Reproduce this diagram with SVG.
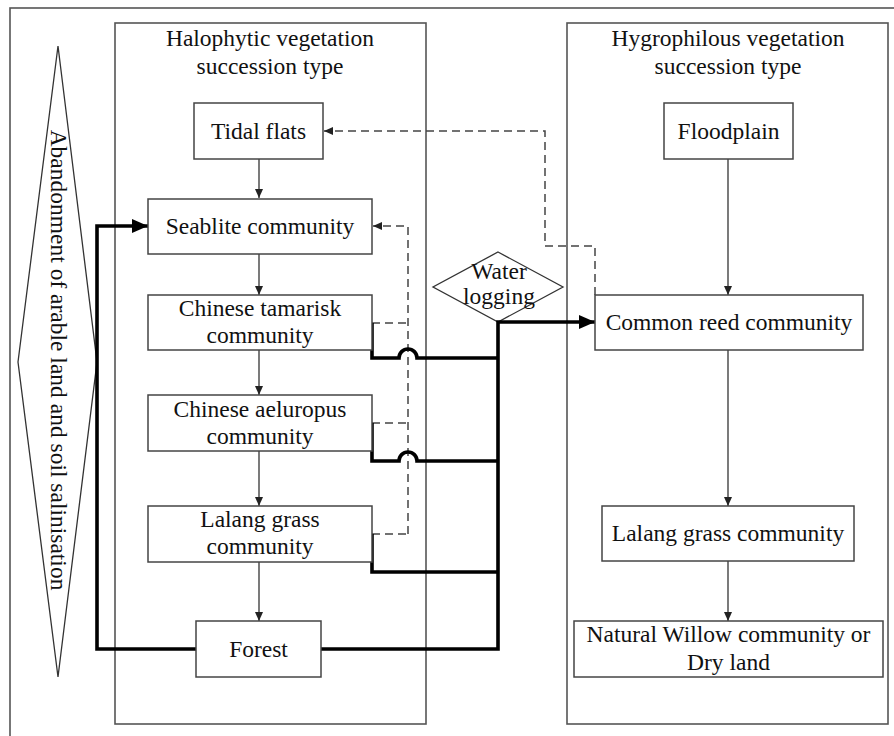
<svg xmlns="http://www.w3.org/2000/svg" width="894" height="736" viewBox="0 0 894 736">
<style>
text{font-family:"Liberation Serif","Times New Roman",serif;font-size:23.5px;fill:#111;text-anchor:middle}
.frame{fill:none;stroke:#555;stroke-width:1.6}
.box{fill:#fff;stroke:#444;stroke-width:1.5}
.thin{fill:none;stroke:#333;stroke-width:1.3}
.thick{fill:none;stroke:#000;stroke-width:3.6}
.dash{fill:none;stroke:#444;stroke-width:1.5;stroke-dasharray:8 5}
</style>
<defs>
<marker id="ah" markerUnits="userSpaceOnUse" markerWidth="9" markerHeight="8" refX="9" refY="4" orient="auto"><path d="M0,0 L9,4 L0,8 z" fill="#222"/></marker>
<marker id="ahd" markerUnits="userSpaceOnUse" markerWidth="9" markerHeight="8" refX="9" refY="4" orient="auto"><path d="M0,0 L9,4 L0,8 z" fill="#222"/></marker>
<marker id="ahk" markerUnits="userSpaceOnUse" markerWidth="16" markerHeight="14" refX="16" refY="7" orient="auto"><path d="M0,0 L16,7 L0,14 z" fill="#000"/></marker>
</defs>
<rect width="894" height="736" fill="#fff"/>
<rect id="outer-frame" class="frame" x="10" y="8" width="895" height="740"/>
<g id="panel-halophytic">
<rect class="frame" x="115" y="23" width="311" height="701"/>
<text x="270" y="46">Halophytic vegetation</text>
<text x="270" y="74">succession type</text>
</g>
<g id="panel-hygrophilous">
<rect class="frame" x="567" y="23" width="321" height="701"/>
<text x="728" y="46">Hygrophilous vegetation</text>
<text x="728" y="74">succession type</text>
</g>
<g id="abandonment">
<polygon class="thin" points="58,46 97,362 58,677 18,362"/>
<text transform="translate(58,360) rotate(90)" x="0" y="7">Abandonment of arable land and soil salinisation</text>
</g>
<g id="water-logging">
<polygon class="thin" points="498,252 563,287 498,322 433,287" fill="#fff"/>
<text x="499" y="279">Water</text>
<text x="499" y="304">logging</text>
</g>
<g id="connectors">
<line class="thin" x1="259" y1="159" x2="259" y2="198" marker-end="url(#ah)"/>
<line class="thin" x1="259" y1="254" x2="259" y2="295" marker-end="url(#ah)"/>
<line class="thin" x1="259" y1="350" x2="259" y2="395" marker-end="url(#ah)"/>
<line class="thin" x1="259" y1="451" x2="259" y2="506" marker-end="url(#ah)"/>
<line class="thin" x1="259" y1="562" x2="259" y2="621" marker-end="url(#ah)"/>
<line class="thin" x1="728" y1="159" x2="728" y2="295" marker-end="url(#ah)"/>
<line class="thin" x1="728" y1="350" x2="728" y2="506" marker-end="url(#ah)"/>
<line class="thin" x1="728" y1="561" x2="728" y2="621" marker-end="url(#ah)"/>
<path class="dash" d="M595,295 V246 H545 V131 H324" marker-end="url(#ahd)"/>
<path class="dash" d="M372,323 H408 M372,423 H408 M372,534 H408"/>
<path class="dash" d="M408,534 V226 H373" marker-end="url(#ahd)"/>
<path class="thick" d="M196,649 H97 V226 H148" marker-end="url(#ahk)"/>
<path class="thick" d="M321,649 H498 V322 H595" marker-end="url(#ahk)"/>
<path class="thick" d="M372,323 V358 H399 A9,9 0 0 1 417,358 H498"/>
<path class="thick" d="M372,423 V461 H399 A9,9 0 0 1 417,461 H498"/>
<path class="thick" d="M372,534 V572 H498"/>
</g>
<g id="tidal-flats"><rect class="box" x="194" y="103" width="129" height="56"/><text x="258.5" y="139">Tidal flats</text></g>
<g id="seablite"><rect class="box" x="148" y="199" width="224" height="55"/><text x="260" y="234">Seablite community</text></g>
<g id="tamarisk"><rect class="box" x="148" y="295" width="224" height="55"/><text x="260" y="316">Chinese tamarisk</text><text x="260" y="343">community</text></g>
<g id="aeluropus"><rect class="box" x="148" y="395" width="224" height="56"/><text x="260" y="417">Chinese aeluropus</text><text x="260" y="444">community</text></g>
<g id="lalang-left"><rect class="box" x="148" y="506" width="224" height="56"/><text x="260" y="527">Lalang grass</text><text x="260" y="554">community</text></g>
<g id="forest"><rect class="box" x="196" y="621" width="125" height="56"/><text x="258.5" y="657">Forest</text></g>
<g id="floodplain"><rect class="box" x="664" y="103" width="129" height="56"/><text x="728.5" y="139">Floodplain</text></g>
<g id="common-reed"><rect class="box" x="595" y="295" width="268" height="55"/><text x="729" y="330">Common reed community</text></g>
<g id="lalang-right"><rect class="box" x="602" y="506" width="252" height="55"/><text x="728" y="541">Lalang grass community</text></g>
<g id="willow"><rect class="box" x="574" y="621" width="309" height="56"/><text x="728.5" y="642">Natural Willow community or</text><text x="728.5" y="670">Dry land</text></g>
</svg>
